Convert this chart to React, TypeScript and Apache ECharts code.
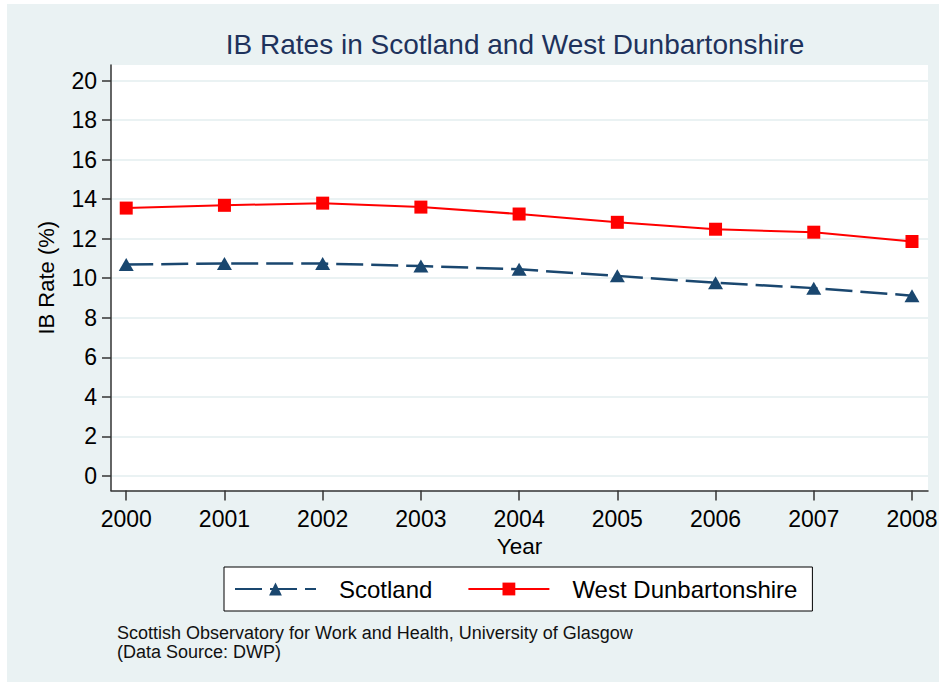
import React, { useEffect, useRef } from "react";
import * as echarts from "echarts";

const years = [2000, 2001, 2002, 2003, 2004, 2005, 2006, 2007, 2008];
const scotland = [10.69, 10.75, 10.74, 10.62, 10.45, 10.12, 9.77, 9.5, 9.12];
const westDunbartonshire = [13.55, 13.69, 13.8, 13.6, 13.25, 12.83, 12.48, 12.33, 11.86];
const yTicks = [0, 2, 4, 6, 8, 10, 12, 14, 16, 18, 20];
const seriesNames = ["Scotland", "West Dunbartonshire"];
const titleText = "IB Rates in Scotland and West Dunbartonshire";
const yAxisName = "IB Rate (%)";
const xAxisName = "Year";
const footnote = [
  "Scottish Observatory for Work and Health, University of Glasgow",
  "(Data Source: DWP)",
];

const FONT = "'Liberation Sans', Arial, Helvetica, sans-serif";
const NAVY = "#1A476F";
const RED = "#FF0000";
const PANEL = "#EAF2F3";

export default function App() {
  const ref = useRef<HTMLDivElement>(null);

  useEffect(() => {
    if (!ref.current) return;
    const chart = echarts.init(ref.current, null, { renderer: "svg" });
    chart.setOption({
      animation: false,
      backgroundColor: PANEL,
      textStyle: { fontFamily: FONT },
      title: {
        text: titleText,
        left: 508,
        top: 26,
        padding: 0,
        textAlign: "center",
        textStyle: { fontFamily: FONT, fontSize: 28, fontWeight: "normal", color: "#1E325C" },
      },
      grid: {
        left: 104,
        right: 11,
        top: 61,
        bottom: 191.5,
        show: true,
        backgroundColor: "#FFFFFF",
        borderWidth: 0,
        containLabel: false,
        outerBoundsMode: "none",
      },
      legend: {
        data: seriesNames,
        left: 217,
        top: 563,
        orient: "horizontal",
        padding: [10, 15, 10, 10],
        itemWidth: 81,
        itemHeight: 16,
        itemGap: 35,
        borderColor: "#000",
        borderWidth: 1,
        backgroundColor: "#FFFFFF",
        textStyle: { fontFamily: FONT, fontSize: 24, color: "#000", padding: [0, 0, 0, 18] },
      },
      xAxis: {
        type: "value",
        min: 1999.845,
        max: 2008.163,
        name: xAxisName,
        nameLocation: "middle",
        nameGap: 38,
        nameTextStyle: { fontFamily: FONT, fontSize: 22.5, color: "#000" },
        axisLine: { show: true, onZero: false, lineStyle: { color: "#333", width: 1.5 } },
        axisTick: { show: true, length: 10, inside: false, customValues: years, lineStyle: { color: "#333", width: 1.5 } },
        axisLabel: {
          customValues: years,
          margin: 17,
          fontFamily: FONT,
          fontSize: 23,
          color: "#000",
          hideOverlap: false,
          formatter: (v: number) => String(Math.round(v)),
        },
        splitLine: { show: false },
      },
      yAxis: {
        type: "value",
        min: -0.74,
        max: 20.79,
        name: yAxisName,
        nameLocation: "middle",
        nameGap: 54,
        nameRotate: 90,
        nameTextStyle: { fontFamily: FONT, fontSize: 22, color: "#000" },
        axisLine: { show: true, onZero: false, lineStyle: { color: "#333", width: 1.5 } },
        axisTick: { show: true, length: 9, inside: false, customValues: yTicks, lineStyle: { color: "#333", width: 1.5 } },
        axisLabel: {
          customValues: yTicks,
          margin: 14,
          fontFamily: FONT,
          fontSize: 23,
          color: "#000",
          formatter: (v: number) => String(Math.round(v)),
        },
        splitLine: { show: true, lineStyle: { color: PANEL, width: 2 } },
      },
      series: [
        {
          name: seriesNames[0],
          type: "line",
          data: years.map((y, i) => [y, scotland[i]]),
          symbol: "triangle",
          symbolSize: [15, 13],
          itemStyle: { color: NAVY },
          lineStyle: { color: NAVY, width: 2.5, type: [27, 8] },
          z: 3,
        },
        {
          name: seriesNames[1],
          type: "line",
          data: years.map((y, i) => [y, westDunbartonshire[i]]),
          symbol: "rect",
          symbolSize: 13,
          itemStyle: { color: RED },
          lineStyle: { color: RED, width: 2 },
          z: 4,
        },
      ],
      graphic: [
        {
          type: "text",
          left: 110,
          top: 619,
          style: {
            text: footnote.join("\n"),
            fontFamily: FONT,
            fontSize: 18,
            lineHeight: 19.5,
            fill: "#111",
          },
        },
      ],
    });
    return () => chart.dispose();
  }, []);

  return (
    <div style={{ position: "fixed", left: 0, top: 0, width: 939, height: 685, background: "#FFFFFF" }}>
      <div
        ref={ref}
        style={{ position: "absolute", left: 7, top: 4, width: 932, height: 678 }}
      />
    </div>
  );
}
